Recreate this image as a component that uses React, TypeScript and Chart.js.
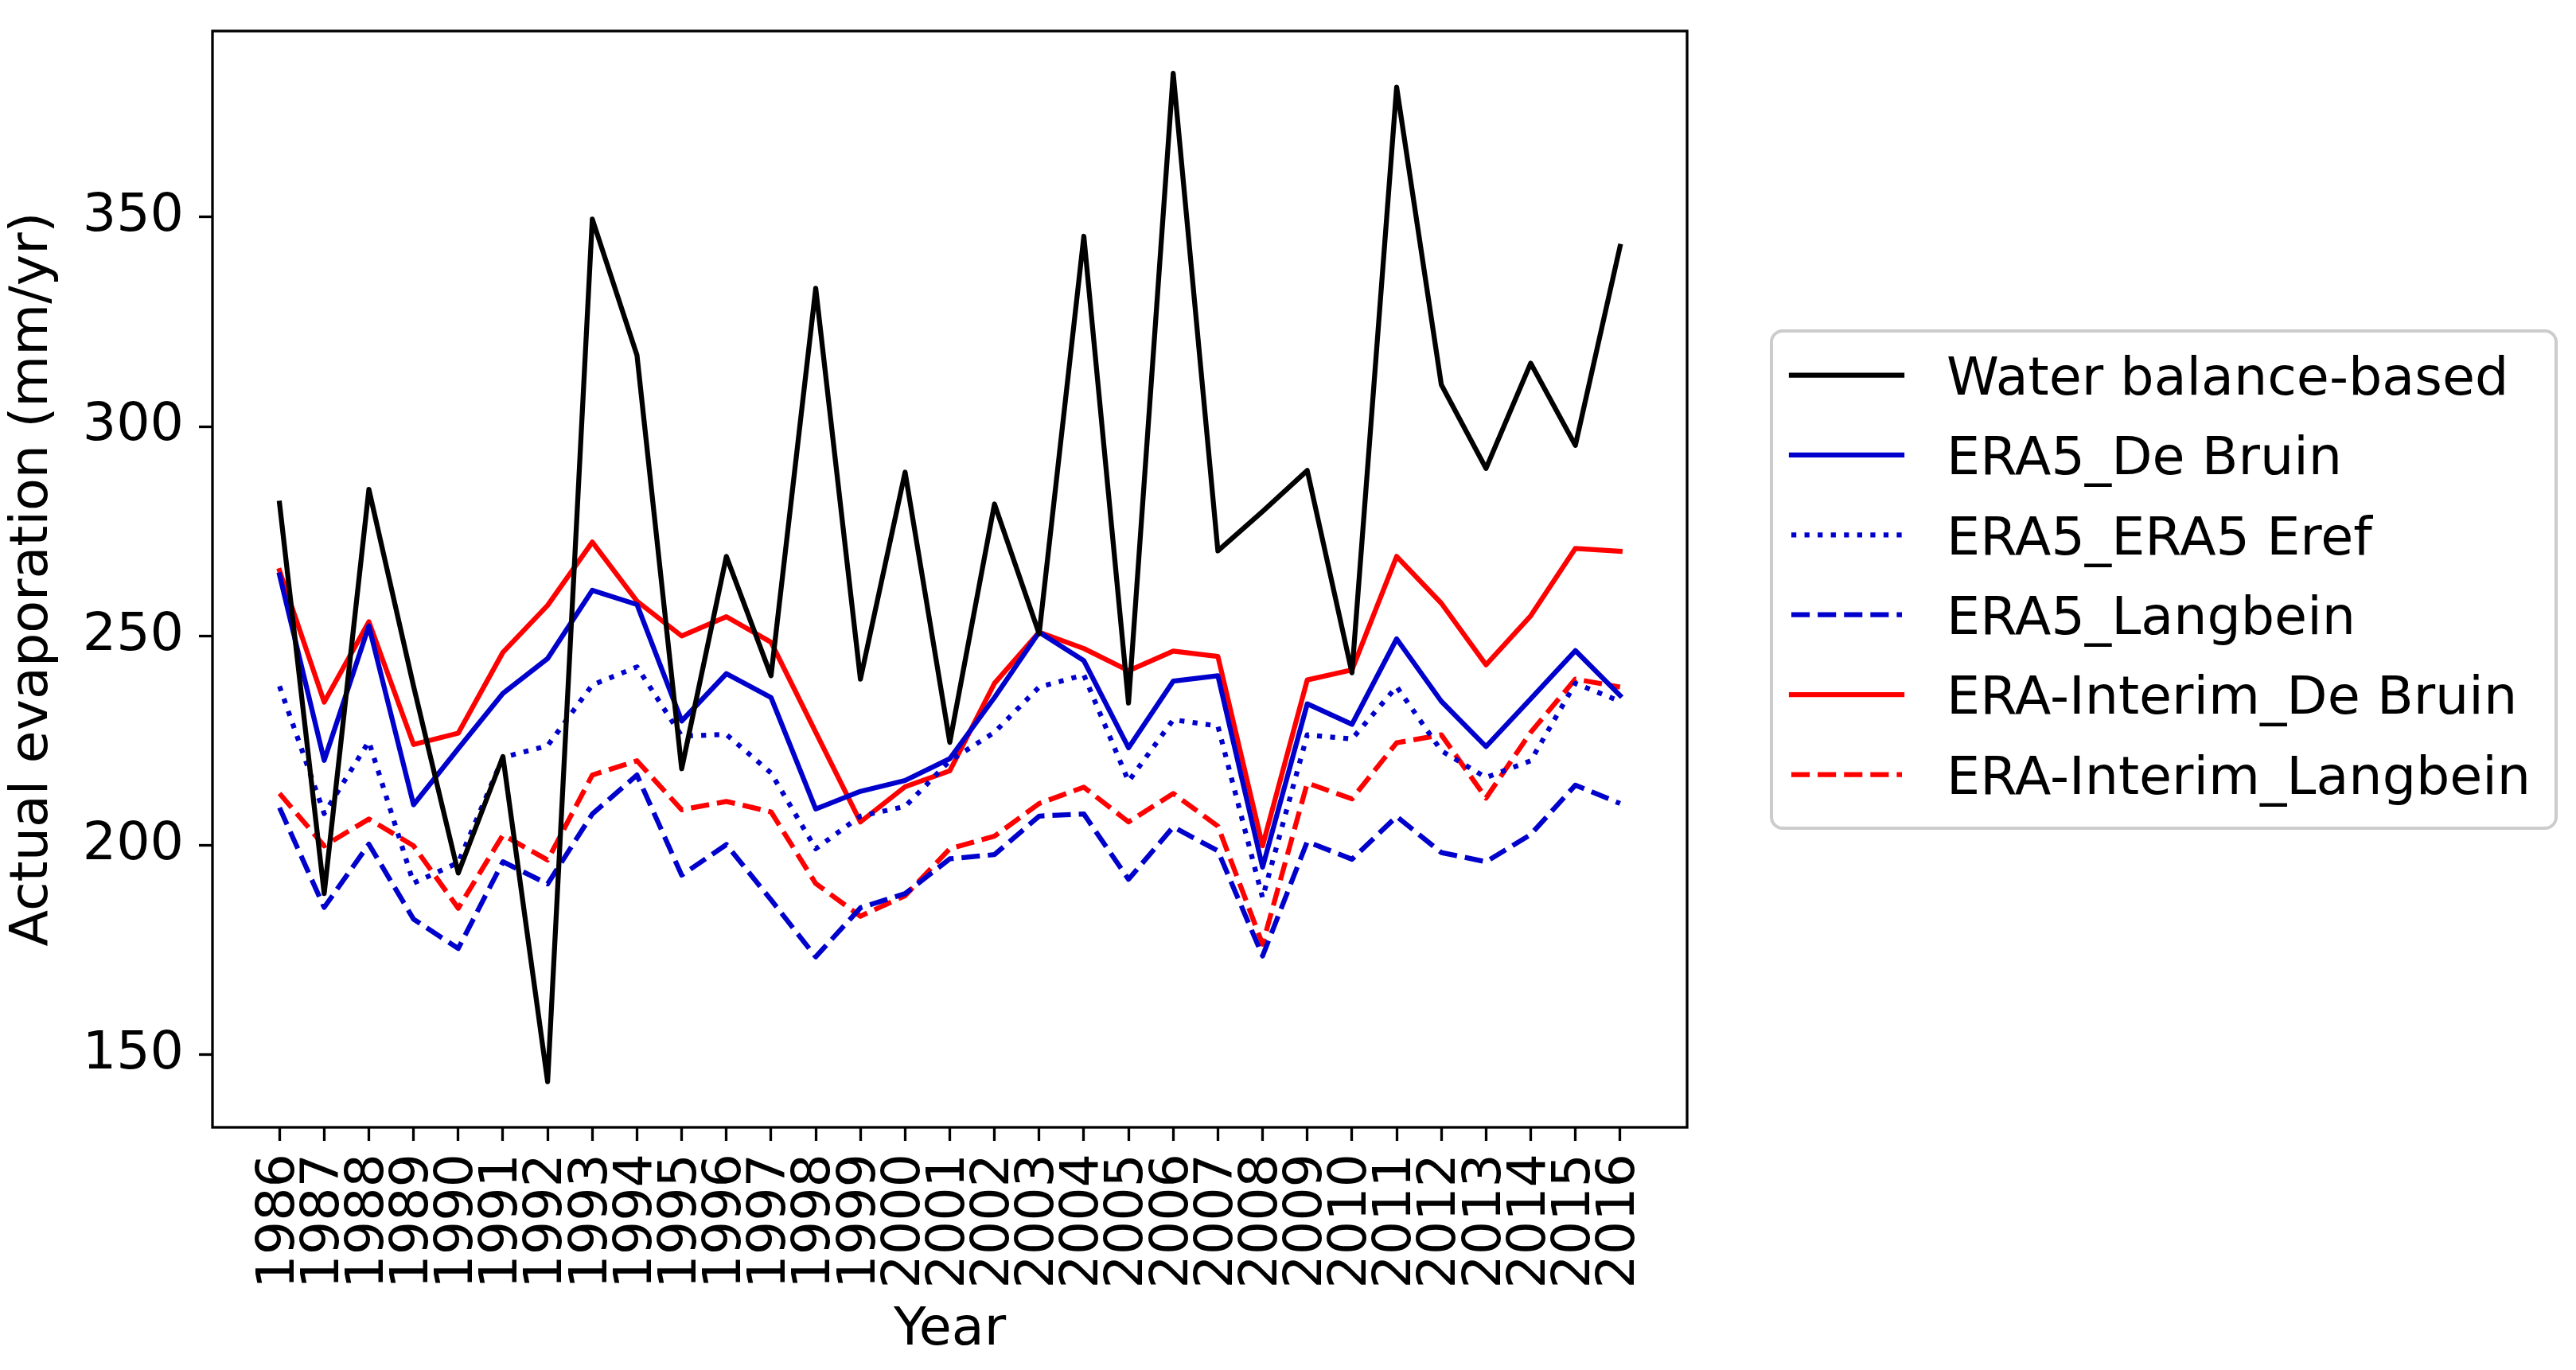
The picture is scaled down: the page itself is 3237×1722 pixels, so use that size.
import React, { useEffect, useRef } from "react";
import { Chart, registerables } from "chart.js";

Chart.register(...registerables);

// ---------- data ----------
const years = [
  1986, 1987, 1988, 1989, 1990, 1991, 1992, 1993, 1994, 1995, 1996, 1997, 1998, 1999, 2000, 2001,
  2002, 2003, 2004, 2005, 2006, 2007, 2008, 2009, 2010, 2011, 2012, 2013, 2014, 2015, 2016,
];

const waterBalance = [
  281.7, 188.5, 285.0, 238.0, 193.4, 221.2, 143.6, 349.5, 317.0, 218.3, 269.0, 240.5, 333.0, 239.7,
  289.1, 224.6, 281.5, 250.5, 345.4, 234.0, 384.3, 270.3, 279.7, 289.5, 241.2, 381.0, 310.0, 290.0,
  315.1, 295.5, 343.0,
];

const era5DeBruin = [
  264.6, 220.3, 252.4, 209.7, 223.1, 236.3, 244.6, 260.9, 257.5, 229.7, 241.0, 235.3, 208.7, 212.9,
  215.5, 220.7, 235.3, 250.9, 244.1, 223.3, 239.2, 240.5, 194.8, 233.8, 228.9, 249.3, 234.4, 223.6,
  235.0, 246.5, 235.8,
];

const era5Eref = [
  238.0, 207.6, 224.8, 191.0, 195.9, 221.0, 223.8, 238.3, 242.6, 226.1, 226.5, 217.3, 199.2, 207.0,
  209.3, 220.2, 227.0, 237.8, 240.7, 215.3, 230.0, 228.5, 187.5, 226.4, 225.4, 237.9, 222.6, 216.2,
  220.2, 238.7, 234.4,
];

const era5Langbein = [
  209.0, 185.2, 200.3, 182.4, 175.4, 196.1, 190.8, 207.5, 216.8, 192.9, 200.2, 187.0, 173.4, 185.1,
  188.5, 196.8, 197.8, 207.0, 207.5, 191.9, 204.4, 198.7, 173.6, 200.9, 196.7, 206.9, 198.3, 196.1,
  202.6, 214.4, 210.0,
];

const eraInterimDeBruin = [
  265.6, 234.2, 253.4, 224.1, 226.8, 246.1, 257.3, 272.4, 258.3, 250.0, 254.6, 248.5, 227.0, 205.6,
  214.0, 217.8, 238.7, 250.9, 247.0, 241.7, 246.4, 245.1, 199.9, 239.5, 241.9, 269.0, 257.8, 243.1,
  254.8, 270.9, 270.2,
];

const eraInterimLangbein = [
  212.4, 199.9, 206.3, 199.9, 185.0, 202.5, 196.5, 216.8, 220.2, 208.5, 210.5, 208.0, 190.9, 183.1,
  188.0, 199.2, 202.2, 210.0, 213.9, 205.6, 212.4, 204.6, 176.4, 214.9, 211.1, 224.5, 226.4, 211.3,
  227.0, 239.7, 237.8,
];

const yTicks = [150, 200, 250, 300, 350];

const seriesLabels = [
  "Water balance-based",
  "ERA5_De Bruin",
  "ERA5_ERA5 Eref",
  "ERA5_Langbein",
  "ERA-Interim_De Bruin",
  "ERA-Interim_Langbein",
];

// ---------- styling ----------
const FONT = "'DejaVu Sans', sans-serif";
const FS = 66.7;
const LW = 6.25;
const BLUE = "#0000cc";
const RED = "#ff0000";
const DOTTED = [6.25, 10.3];
const DASHED = [23.1, 10.0];
const W = 3237;
const H = 1722;
const PLOT = { left: 267, top: 39, right: 2120, bottom: 1417 };

const toPoints = (vals: number[]) => years.map((x, i) => ({ x, y: vals[i] }));

export default function App() {
  const ref = useRef<HTMLCanvasElement | null>(null);

  useEffect(() => {
    const canvas = ref.current;
    if (!canvas) return;

    const framePlugin = {
      id: "frame",
      afterDatasetsDraw(chart: any) {
        const { left, top, right, bottom } = chart.chartArea;
        const c = chart.ctx;
        c.save();
        c.strokeStyle = "#000";
        c.lineWidth = 3.3;
        c.setLineDash([]);
        c.strokeRect(left, top, right - left, bottom - top);
        c.restore();
      },
    };

    const legendPlugin = {
      id: "mplLegend",
      afterDraw(chart: any) {
        const c = chart.ctx;
        const bx = 2226, by = 416, bw = 986, bh = 625;
        c.save();
        c.beginPath();
        (c as any).roundRect(bx, by, bw, bh, 14);
        c.fillStyle = "rgba(255,255,255,0.8)";
        c.fill();
        c.strokeStyle = "#cccccc";
        c.lineWidth = 4;
        c.stroke();
        chart.data.datasets.forEach((ds: any, i: number) => {
          const y = 471.5 + i * 100.4;
          c.beginPath();
          c.setLineDash(ds.borderDash || []);
          c.lineCap = ds.borderCapStyle || "butt";
          c.strokeStyle = ds.borderColor;
          c.lineWidth = ds.borderWidth;
          c.moveTo(2251, y);
          c.lineTo(2390, y);
          c.stroke();
          c.setLineDash([]);
          c.fillStyle = "#000";
          c.font = `${FS}px ${FONT}`;
          c.textBaseline = "alphabetic";
          c.textAlign = "left";
          c.fillText(ds.label, 2446, y + 0.365 * FS);
        });
        c.restore();
      },
    };

    const mk = (label: string, vals: number[], color: string, dash: number[]) => ({
      label,
      data: toPoints(vals),
      borderColor: color,
      backgroundColor: color,
      borderWidth: LW,
      borderDash: dash,
      borderCapStyle: dash.length ? "butt" : "square",
      borderJoinStyle: "round",
      pointRadius: 0,
      pointHoverRadius: 0,
      fill: false,
      tension: 0,
    });

    const chart = new Chart(canvas, {
      type: "line",
      data: {
        datasets: [
          mk(seriesLabels[0], waterBalance, "#000000", []),
          mk(seriesLabels[1], era5DeBruin, BLUE, []),
          mk(seriesLabels[2], era5Eref, BLUE, DOTTED),
          mk(seriesLabels[3], era5Langbein, BLUE, DASHED),
          mk(seriesLabels[4], eraInterimDeBruin, RED, []),
          mk(seriesLabels[5], eraInterimLangbein, RED, DASHED),
        ] as any,
      },
      options: {
        animation: false,
        responsive: false,
        devicePixelRatio: 1,
        layout: { padding: { left: 0, top: PLOT.top, right: W - PLOT.right, bottom: 0 } },
        plugins: {
          legend: { display: false },
          tooltip: { enabled: false },
        },
        scales: {
          x: {
            type: "linear",
            min: 1984.5,
            max: 2017.5,
            afterBuildTicks: (scale: any) => {
              scale.ticks = years.map((v) => ({ value: v }));
            },
            afterFit: (scale: any) => {
              scale.height = H - PLOT.bottom;
              scale.paddingLeft = 0;
              scale.paddingRight = 0;
            },
            border: { display: false },
            grid: {
              display: true,
              drawOnChartArea: false,
              drawTicks: true,
              tickLength: 17,
              tickWidth: 3.3,
              tickColor: "#000",
            },
            ticks: {
              autoSkip: false,
              maxRotation: 90,
              minRotation: 90,
              padding: 16,
              color: "#000",
              font: { family: FONT, size: FS },
              callback: (v: any) => String(v),
            },
            title: {
              display: true,
              text: "Year",
              color: "#000",
              font: { family: FONT, size: FS },
              padding: { top: 0, bottom: 9 },
            },
          },
          y: {
            type: "linear",
            min: 132.7,
            max: 394.4,
            afterBuildTicks: (scale: any) => {
              scale.ticks = yTicks.map((v) => ({ value: v }));
            },
            afterFit: (scale: any) => {
              scale.width = PLOT.left;
              scale.paddingTop = 0;
              scale.paddingBottom = 0;
            },
            border: { display: false },
            grid: {
              display: true,
              drawOnChartArea: false,
              drawTicks: true,
              tickLength: 17,
              tickWidth: 3.3,
              tickColor: "#000",
            },
            ticks: {
              padding: 19,
              color: "#000",
              font: { family: FONT, size: FS },
              callback: (v: any) => String(v),
            },
            title: {
              display: true,
              text: "Actual evaporation (mm/yr)",
              color: "#000",
              font: { family: FONT, size: FS },
              padding: { top: 2, bottom: 0 },
            },
          },
        },
      } as any,
      plugins: [framePlugin, legendPlugin],
    });

    return () => chart.destroy();
  }, []);

  return (
    <div style={{ position: "fixed", left: 0, top: 0, width: W, height: H, background: "#fff" }}>
      <canvas ref={ref} width={W} height={H} style={{ display: "block", width: W, height: H }} />
    </div>
  );
}
